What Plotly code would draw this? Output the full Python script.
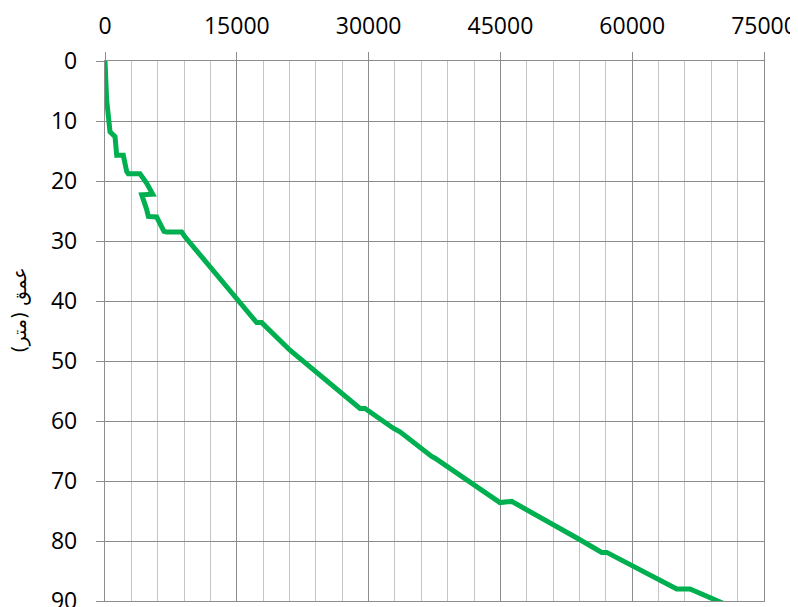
import plotly.graph_objects as go

# values
flow = [0, 190, 570, 1140, 1330, 2080, 2470, 2650, 3980, 4750, 5430, 4180, 4750,
        4930, 5880, 6710, 7020, 8730, 9100, 14990, 15170, 17260, 17830, 21050,
        29020, 29590, 32810, 33570, 37180, 37560, 44950, 46290, 54060, 56530,
        57100, 65070, 66580, 70370]
depth = [0, 6.5, 11.8, 12.6, 15.7, 15.7, 18.4, 18.8, 18.8, 20.4, 22.2, 22.3, 24.8,
         25.9, 26.0, 28.4, 28.5, 28.5, 29.3, 39.5, 40.1, 43.6, 43.6, 48.2,
         57.9, 57.9, 61.2, 61.8, 65.9, 66.2, 73.6, 73.4, 79.8, 81.9,
         81.9, 88.0, 88.0, 90.4]
x_ticks = [0, 15000, 30000, 45000, 60000, 75000]
y_ticks = [0, 10, 20, 30, 40, 50, 60, 70, 80, 90]
y_title = "عمق (متر)"

fig = go.Figure()
fig.add_trace(go.Scatter(x=flow, y=depth, mode="lines",
                         line=dict(color="#00B050", width=5),
                         showlegend=False, hoverinfo="skip"))

font = dict(family="Open Sans", size=23, color="#000000")
major = "#8c8c8c"
fig.update_layout(
    width=790, height=599,
    margin=dict(l=97, r=34, t=53, b=6),
    plot_bgcolor="white", paper_bgcolor="white",
    font=font,
    xaxis=dict(side="top", range=[0, 75000], tickvals=x_ticks,
               ticktext=[str(v) for v in x_ticks], automargin=False,
               ticklabeloverflow="allow",
               showgrid=True, gridcolor=major, gridwidth=1.3,
               minor=dict(dtick=3000, showgrid=True, gridcolor="#c4c4c4", gridwidth=1.3),
               ticks="outside", ticklen=8, tickcolor=major, tickwidth=1.3,
               showline=True, linecolor=major, linewidth=1.3, mirror=True,
               zeroline=False, ticklabelstandoff=9, tickfont=font),
    yaxis=dict(range=[90, 0], tickvals=y_ticks, automargin=False,
               ticklabeloverflow="allow",
               showgrid=True, gridcolor=major, gridwidth=1.3,
               ticks="outside", ticklen=8, tickcolor=major, tickwidth=1.3,
               showline=True, linecolor=major, linewidth=1.3, mirror=True,
               zeroline=False, ticklabelstandoff=14, tickfont=font),
    annotations=[dict(text=y_title, xref="paper", yref="paper",
                      x=-0.129, y=0.539, xanchor="center", yanchor="middle",
                      textangle=-90, showarrow=False,
                      font=dict(family="DejaVu Sans", size=19, color="#000000"))],
)
fig.write_html("out.html")
